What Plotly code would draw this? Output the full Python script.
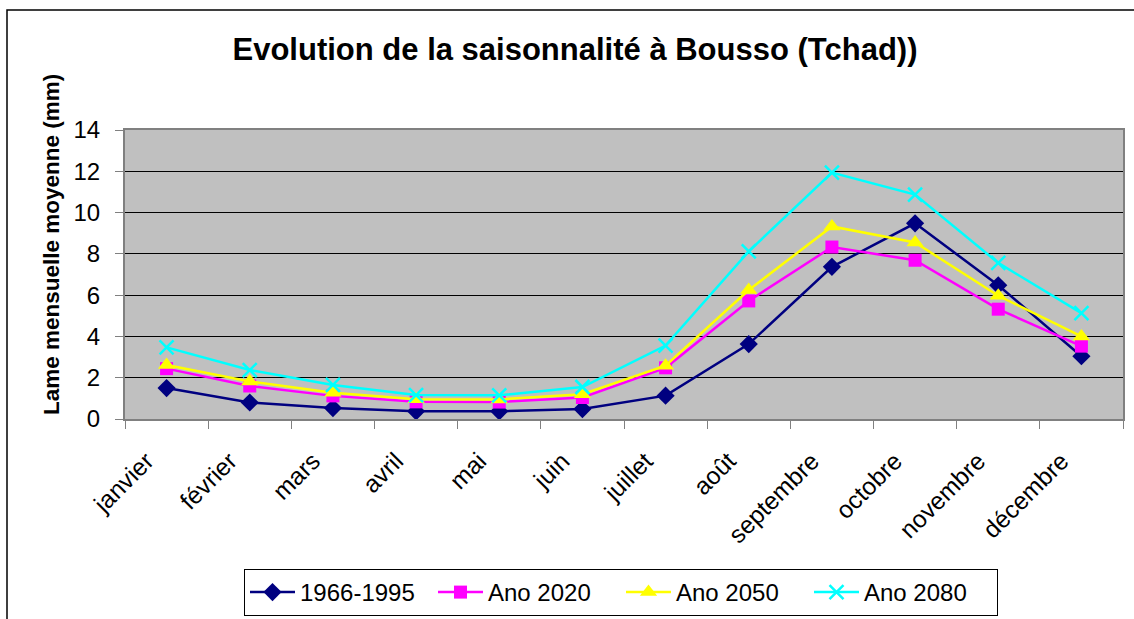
import plotly.graph_objects as go

months = ["janvier", "février", "mars", "avril", "mai", "juin", "juillet",
          "août", "septembre", "octobre", "novembre", "décembre"]
s_1966 = [1.5, 0.8, 0.53, 0.37, 0.37, 0.48, 1.13, 3.63, 7.37, 9.48, 6.48, 3.04]
s_2020 = [2.44, 1.6, 1.12, 0.83, 0.82, 1.04, 2.48, 5.72, 8.33, 7.69, 5.32, 3.53]
s_2050 = [2.62, 1.82, 1.27, 0.96, 0.95, 1.2, 2.58, 6.25, 9.33, 8.55, 5.97, 4.0]
s_2080 = [3.47, 2.37, 1.65, 1.16, 1.15, 1.55, 3.56, 8.12, 11.94, 10.87, 7.56, 5.13]

FONT = "Liberation Sans, Arial, sans-serif"

series = [
    ("1966-1995", s_1966, "#000080", "diamond", 14, None),
    ("Ano 2020", s_2020, "#FF00FF", "square", 13, None),
    ("Ano 2050", s_2050, "#FFFF00", "triangle-up", 15, None),
    ("Ano 2080", s_2080, "#00FFFF", "x-thin", 14, 2.5),
]

fig = go.Figure()
for name, vals, col, sym, size, mlw in series:
    marker = dict(symbol=sym, size=size, color=col)
    if mlw:
        marker["line"] = dict(color=col, width=mlw)
    fig.add_trace(go.Scatter(
        x=months, y=vals, name=name, mode="lines+markers",
        line=dict(color=col, width=2.5), marker=marker,
    ))

W, H = 1134, 619
L, R, T, B = 125, 11, 130, 200
pw, ph = W - L - R, H - T - B


def px(x):
    return (x - L) / pw


def py(y):
    return (H - B - y) / ph


# outer chart border
fig.add_shape(type="rect", xref="paper", yref="paper",
              x0=px(7), x1=px(1140), y0=py(640), y1=py(10),
              line=dict(color="black", width=1.5), layer="below")

fig.add_annotation(text="<b>Lame mensuelle moyenne (mm)</b>", textangle=-90,
                   xref="paper", yref="paper", x=px(51), y=py(245),
                   xanchor="center", yanchor="middle", showarrow=False,
                   font=dict(family=FONT, size=22.5, color="black"))

fig.update_layout(
    width=W, height=H,
    margin=dict(l=L, r=R, t=T, b=B),
    paper_bgcolor="white",
    plot_bgcolor="#C0C0C0",
    font=dict(family=FONT, size=22, color="black"),
    title=dict(text="<b>Evolution de la saisonnalité à Bousso (Tchad))</b>",
               x=575 / W, xanchor="center", y=1 - 49 / H, yanchor="middle",
               font=dict(family=FONT, size=31, color="black")),
    showlegend=True,
    legend=dict(orientation="h", xref="container", yref="container",
                x=621 / W, xanchor="center",
                y=1 - 616 / H, yanchor="bottom",
                bordercolor="black", borderwidth=1,
                font=dict(family=FONT, size=24, color="black"),
                entrywidth=128, entrywidthmode="pixels",
                itemwidth=45, tracegroupgap=0),
    xaxis=dict(
        type="category", tickson="boundaries", ticks="outside",
        ticklen=8, tickcolor="#808080", tickwidth=1,
        tickangle=-45, showgrid=False, showline=True,
        linecolor="#808080", linewidth=2, mirror=True, automargin=False,
        ticklabelstandoff=16, ticklabelshift=-20,
        tickfont=dict(family=FONT, size=24.5), range=[-0.5, 11.5],
    ),
    yaxis=dict(
        range=[0, 14], dtick=2, tick0=0, ticks="outside", ticklen=8,
        tickcolor="#808080", showgrid=True, gridcolor="black", gridwidth=1,
        showline=True, linecolor="#808080", linewidth=2, mirror=True,
        zeroline=False, automargin=False, ticklabelstandoff=10,
        tickfont=dict(family=FONT, size=24),
    ),
)

fig.write_html(
    "out.html",
    config={"displayModeBar": False, "staticPlot": True},
    post_script="document.body.style.margin='0';document.body.style.overflow='hidden';",
)
